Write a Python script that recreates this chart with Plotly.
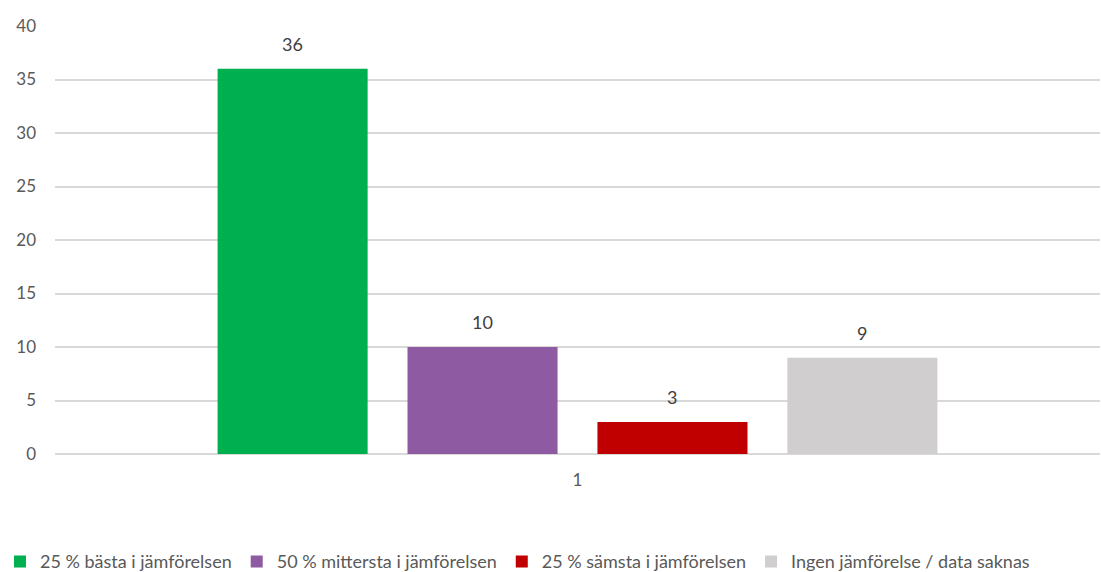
import plotly.graph_objects as go

# Data
categories = ["1"]
series_names = [
    "25 % bästa i jämförelsen",
    "50 % mittersta i jämförelsen",
    "25 % sämsta i jämförelsen",
    "Ingen jämförelse / data saknas",
]
series_values = [[36], [10], [3], [9]]
colors = ["#00B050", "#8E5BA2", "#C00000", "#D0CECE"]

font_family = "Lato, 'Open Sans', sans-serif"
text_color = "#595959"

W, H = 1101, 572
ML, MR, MT, MB = 55, 1, 26, 118
BARGAP = 0.273

fig = go.Figure()
for name, vals, col in zip(series_names, series_values, colors):
    fig.add_trace(go.Bar(
        x=categories, y=vals, name=name,
        marker=dict(color=col, line=dict(width=0)),
    ))

# value labels above the bars (offset per bar slot in the group)
slot = (W - ML - MR) * (1 - BARGAP) / len(series_names)
for i, vals in enumerate(series_values):
    for ci, v in enumerate(vals):
        fig.add_annotation(
            x=ci, y=v, text=str(v), showarrow=False,
            xshift=(i - (len(series_names) - 1) / 2) * slot,
            yanchor="bottom", yshift=12,
            font=dict(size=18, color="#404040", family=font_family),
        )

fig.update_layout(
    width=W, height=H,
    margin=dict(l=ML, r=MR, t=MT, b=MB),
    paper_bgcolor="white", plot_bgcolor="white",
    barmode="group", bargap=BARGAP, bargroupgap=0.21,
    font=dict(family=font_family, size=17, color=text_color),
    showlegend=True,
    legend=dict(
        orientation="h", xref="container", yref="container",
        x=0, xanchor="left", y=0.018, yanchor="middle",
        font=dict(size=18, color=text_color, family=font_family),
        tracegroupgap=0,
    ),
)
fig.update_yaxes(
    range=[0, 40], dtick=5, showgrid=True, gridcolor="#D9D9D9", gridwidth=1.5,
    zeroline=True, zerolinecolor="#D9D9D9", zerolinewidth=1.5,
    showline=False, ticks="", tickfont=dict(size=17, color=text_color),
    ticklabelstandoff=18, automargin=False,
)
fig.update_xaxes(
    range=[-0.5, 0.5], autorange=False,
    showgrid=False, showline=False, ticks="",
    tickfont=dict(size=17, color=text_color), ticklabelstandoff=14,
    automargin=False,
)

fig.write_html("out.html", config={"displayModeBar": False},
               post_script="document.body.style.margin='0';")
